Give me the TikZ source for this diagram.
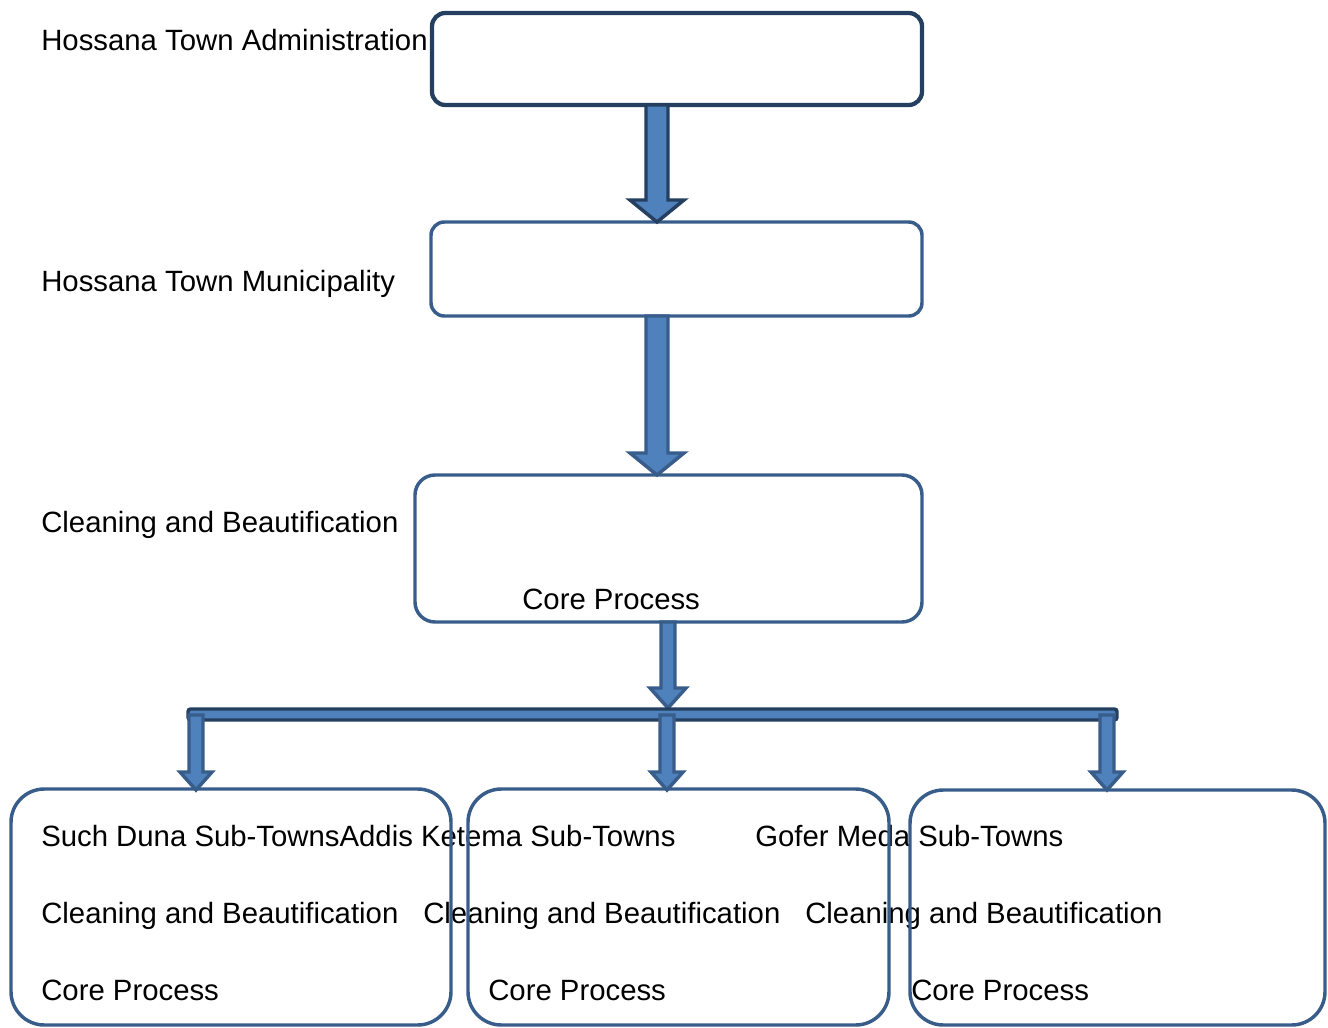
\documentclass[tikz,border=0pt]{standalone}
\usepackage{fontspec}
\setmainfont{Liberation Sans}
\definecolor{darkb}{HTML}{243F60}
\definecolor{midb}{HTML}{385D8A}
\definecolor{fillb}{HTML}{4F81BD}
\newcommand\blockarrow[7]{% x, ytop, ytip, shaft half, head half, head len, stroke color
  \filldraw[fill=fillb,draw=#7,line width=2.6pt,line join=miter]
    ({#1-#4},#2) -- ({#1+#4},#2) -- ({#1+#4},{#3-#6}) -- ({#1+#5},{#3-#6})
    -- (#1,#3) -- ({#1-#5},{#3-#6}) -- ({#1-#4},{#3-#6}) -- cycle;}
\begin{document}
\begin{tikzpicture}[x=0.75pt,y=-0.75pt,
  lbl/.style={anchor=base west,inner sep=0pt,font=\fontsize{22}{26}\selectfont},
  boxa/.style={draw=darkb,line width=3.2pt,rounded corners=10pt},
  boxb/.style={draw=midb,line width=2.6pt,rounded corners=10pt},
  boxc/.style={draw=midb,line width=2.6pt,rounded corners=15pt},
  boxd/.style={draw=midb,line width=2.6pt,rounded corners=25pt}]
\useasboundingbox (0,0) rectangle (1328,1028);
% texts
\node[lbl] (t1) at (41,50) {Hossana Town Administration};
\node[lbl] (t2) at (41,291) {Hossana Town Municipality};
\node[lbl] (t3) at (41,532) {Cleaning and Beautification};
\node[lbl] (t4) at (522,609) {Core Process};
\node[lbl] (t5) at (41,846) {Such Duna Sub-TownsAddis Ketema Sub-Towns};
\node[lbl] (t6) at (755,846) {Gofer Meda Sub-Towns};
\node[lbl] (t7) at (41,923) {Cleaning and Beautification};
\node[lbl] (t8) at (423,923) {Cleaning and Beautification};
\node[lbl] (t9) at (805,923) {Cleaning and Beautification};
\node[lbl] (t10) at (41,1000) {Core Process};
\node[lbl] (t11) at (488,1000) {Core Process};
\node[lbl] (t12) at (911,1000) {Core Process};
% boxes
\draw[boxa] (432,13) rectangle (922,105);
\draw[boxb] (431,222) rectangle (922,316);
\draw[boxc] (415,475) rectangle (922,622);
\draw[boxd] (11,789) rectangle (451,1025);
\draw[boxd] (468,789) rectangle (889,1025);
\draw[boxd] (910,790) rectangle (1325,1025);
% arrows
\blockarrow{657}{105}{222}{11}{27}{22}{darkb}
\blockarrow{657}{316}{475}{11}{27}{22}{midb}
\blockarrow{668}{622}{708}{7}{18}{20}{midb}
\filldraw[fill=fillb,draw=darkb,line width=2.6pt,rounded corners=2pt] (188,709) rectangle (1117,720);
\blockarrow{196}{715}{790}{7}{16}{18}{midb}
\blockarrow{667}{715}{790}{7}{16}{18}{midb}
\blockarrow{1107}{715}{790}{7}{16}{18}{midb}
\end{tikzpicture}
\end{document}
